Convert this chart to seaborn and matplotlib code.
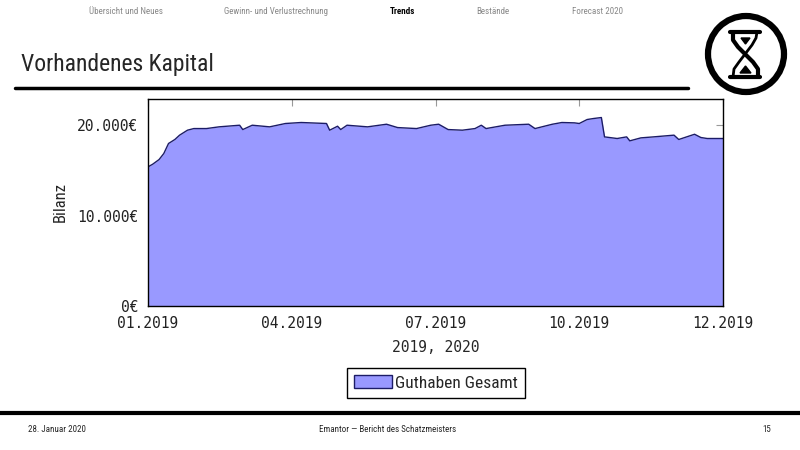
import pandas as pd
import seaborn as sns
import matplotlib.pyplot as plt
import matplotlib.dates as mdates
from matplotlib.patches import Patch, Circle, Polygon

sns.set_style("white")
plt.rcParams['font.family'] = ['Roboto Condensed', 'Roboto', 'DejaVu Sans']

# data: total balance over 2019
dates = ["2019-01-01", "2019-01-04", "2019-01-08", "2019-01-11", "2019-01-14", "2019-01-18",
         "2019-01-21", "2019-01-26", "2019-01-30", "2019-02-07", "2019-02-15", "2019-02-28",
         "2019-03-02", "2019-03-08", "2019-03-19", "2019-03-29", "2019-04-08", "2019-04-24",
         "2019-04-26", "2019-05-01", "2019-05-03", "2019-05-07", "2019-05-20", "2019-06-01",
         "2019-06-08", "2019-06-20", "2019-06-29", "2019-07-04", "2019-07-10", "2019-07-19",
         "2019-07-27", "2019-07-31", "2019-08-03", "2019-08-15", "2019-08-30", "2019-09-03",
         "2019-09-14", "2019-09-20", "2019-09-28", "2019-10-01", "2019-10-06", "2019-10-10",
         "2019-10-15", "2019-10-17", "2019-10-25", "2019-10-31", "2019-11-02", "2019-11-09",
         "2019-11-17", "2019-11-30", "2019-12-03", "2019-12-13", "2019-12-17", "2019-12-21",
         "2019-12-31"]
guthaben = [15390, 15690, 16200, 16870, 17980, 18420,
            18900, 19450, 19630, 19630, 19820, 20000,
            19520, 20000, 19820, 20190, 20300, 20190,
            19450, 19890, 19520, 20000, 19820, 20110,
            19740, 19630, 20000, 20110, 19520, 19450,
            19630, 20000, 19630, 20000, 20110, 19630,
            20110, 20300, 20260, 20190, 20630, 20740,
            20850, 18710, 18530, 18710, 18270, 18600,
            18710, 18900, 18420, 19000, 18640, 18530,
            18530]

nav_items = ["Übersicht und Neues", "Gewinn- und Verlustrechnung", "Trends", "Bestände", "Forecast 2020"]
nav_x = [126, 276, 402, 493, 597]

df = pd.DataFrame({"Datum": pd.to_datetime(dates), "Guthaben": guthaben})

fill_col = "#9999ff"
line_col = "#1c1c66"

fig = plt.figure(figsize=(8, 4.5), dpi=100)
ax = fig.add_axes([148/800, 1-306/450, 575/800, 207/450])

ax.fill_between(df["Datum"], df["Guthaben"], color=fill_col, lw=0)
sns.lineplot(data=df, x="Datum", y="Guthaben", ax=ax, color=line_col, lw=1)

ax.set_xlim(pd.Timestamp("2019-01-01"), pd.Timestamp("2019-12-31"))
ax.set_ylim(0, 22900)
ax.set_xticks(pd.date_range("2019-01-01", periods=5, freq="91D"))
ax.xaxis.set_major_formatter(mdates.DateFormatter("%m.%Y"))
ax.set_yticks([0, 10000, 20000])
ax.set_yticklabels([f"{v:,.0f}".replace(",", ".") + "€" for v in [0, 10000, 20000]])
ax.tick_params(direction="in", length=5, color="#999999", top=True, right=True,
               labelsize=10.5, labelcolor="#222222")
ax.tick_params(axis="x", pad=7)
ax.tick_params(axis="y", pad=7)
for lab in ax.get_xticklabels() + ax.get_yticklabels():
    lab.set_family("DejaVu Sans Mono")
for s in ax.spines.values():
    s.set_color("black")
    s.set_linewidth(1)
    s.set_zorder(5)

ax.set_xlabel("2019, 2020", family="DejaVu Sans Mono", fontsize=10.5, labelpad=7)
ax.set_ylabel("Bilanz", fontsize=12, labelpad=7)

fig.legend(handles=[Patch(facecolor=fill_col, edgecolor=line_col)], labels=["Guthaben Gesamt"],
           loc="upper center", bbox_to_anchor=(436/800, 1-368/450), fancybox=False,
           edgecolor="black", framealpha=1, handlelength=2.2, handleheight=0.8,
           handletextpad=0.2, borderpad=0.4, borderaxespad=0, prop=dict(size=12.5))

# slide decoration in pixel coordinates
deco = fig.add_axes([0, 0, 1, 1], zorder=-1)
deco.set_xlim(0, 800)
deco.set_ylim(450, 0)
deco.axis("off")

for name, x in zip(nav_items, nav_x):
    deco.text(x, 11, name, ha="center", va="center", fontsize=6.5,
              color="black" if name == "Trends" else "#888888",
              weight="bold" if name == "Trends" else "normal")

deco.text(21, 65, "Vorhandenes Kapital", ha="left", va="center", fontsize=17)
deco.plot([15, 688], [88, 88], color="black", lw=2.5)

# hourglass logo
deco.add_patch(Circle((746, 54), 38, fill=False, lw=4.5, color="black"))
deco.plot([730, 760], [32, 32], color="black", lw=3, solid_capstyle="round")
deco.plot([730, 760], [77, 77], color="black", lw=3, solid_capstyle="round")
deco.plot([733, 733, 738, 753, 758, 758], [32, 40, 47, 62, 69, 77], color="black", lw=3)
deco.plot([757, 756, 752, 739, 734, 733], [32, 38, 45, 62, 69, 77], color="black", lw=2)
deco.add_patch(Polygon([[741, 38], [750, 38], [745.5, 44]], color="black"))
deco.add_patch(Polygon([[740, 73], [751, 73], [745.5, 66]], color="black"))

deco.plot([0, 800], [413, 413], color="black", lw=3)
deco.text(28, 430, "28. Januar 2020", ha="left", va="center", fontsize=6.5)
deco.text(388, 430, "Emantor — Bericht des Schatzmeisters", ha="center", va="center", fontsize=6.5)
deco.text(771, 430, "15", ha="right", va="center", fontsize=6.5)

fig.savefig("out.png", dpi=100)
